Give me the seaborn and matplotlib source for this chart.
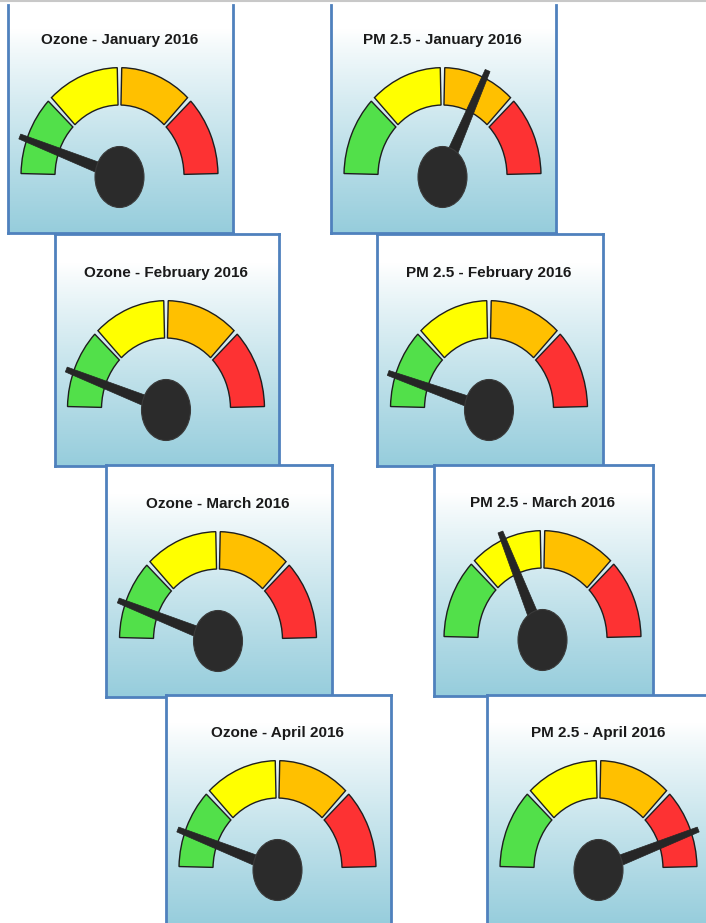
import numpy as np
import matplotlib
matplotlib.use("Agg")
import matplotlib.pyplot as plt
import seaborn as sns
from matplotlib.patches import Wedge, Ellipse, Polygon
from matplotlib.lines import Line2D

# gauge readings, 0 (far left) .. 100 (far right)
pollutants = ["Ozone", "PM 2.5"]
months = ["January", "February", "March", "April"]
year = 2016
ozone_values = [11, 11, 11, 11]
pm25_values = [64, 10, 37, 89]

# colour bands of the dial
band_edges = [0, 25, 50, 75, 100]
band_colors = ["#52E04A", "#FFFF00", "#FFC000", "#FD3233"]

sns.set_theme(style="white")
plt.rcParams["font.family"] = ["Liberation Sans", "DejaVu Sans"]

W, H = 706, 923
fig = plt.figure(figsize=(W / 100, H / 100), dpi=100)

# panel boxes in pixels: left, top, right, bottom
boxes = {
    ("Ozone", 0): (8, 5, 233, 233),
    ("PM 2.5", 0): (331, 5, 556, 233),
    ("Ozone", 1): (55, 234, 279, 466),
    ("PM 2.5", 1): (377, 234, 603, 466),
    ("Ozone", 2): (106, 465, 332, 697),
    ("PM 2.5", 2): (434, 465, 653, 696),
    ("Ozone", 3): (166, 695, 391, 926),
    ("PM 2.5", 3): (487, 695, 712, 926),
}

SY = 1.1          # dial is a bit taller than wide
R_OUT, R_IN = 98.5, 64.5
R_NEEDLE = 106

# background: white at top fading to light blue
top_c = np.array([1.0, 1.0, 1.0])
bot_c = np.array([0x96, 0xCD, 0xDC]) / 255


def draw_gauge(box, title, value, top_edge=True):
    l, tp, r, b = box
    w, h = r - l, b - tp
    ax = fig.add_axes([l / W, 1 - b / H, w / W, h / H])
    yh = h / SY
    # gradient measured from a 230 px tall panel
    t = np.linspace(0, 1, 256) * (h / 230) + (1 - h / 230)
    t = np.clip((t - 0.12) / 0.88, 0, 1) ** 0.9
    grad = (top_c[None, :] * (1 - t[:, None]) + bot_c[None, :] * t[:, None])[:, None, :]
    ax.imshow(grad, extent=[0, w, 0, yh], aspect="auto", zorder=0)
    ax.set_xlim(0, w)
    ax.set_ylim(0, yh)
    ax.set_xticks([])
    ax.set_yticks([])
    for s in ax.spines.values():
        s.set_color("#4F81BD")
        s.set_linewidth(2)
    ax.spines["top"].set_visible(top_edge)

    cx, cy = w / 2 - 1, 57 / SY

    # coloured bands
    for lo, hi, col in zip(band_edges[:-1], band_edges[1:], band_colors):
        th1 = 180 - hi / 100 * 180 + 1.3
        th2 = 180 - lo / 100 * 180 - 1.3
        ax.add_patch(Wedge((cx, cy), R_OUT, th1, th2, width=R_OUT - R_IN,
                           facecolor=col, edgecolor="#1E1E1E", lw=1.0, zorder=2))

    # needle (tapered), built in pixel space then mapped to data
    a = np.deg2rad(180 - value / 100 * 180)
    ux, uy = np.cos(a), np.sin(a)
    tip = np.array([cx + R_NEEDLE * ux, cy * SY + R_NEEDLE * SY * uy])
    base = np.array([cx, cy * SY])
    d = tip - base
    d = d / np.hypot(*d)
    n = np.array([-d[1], d[0]])
    pts = np.array([base + n * 6, tip + n * 2.6, tip - n * 2.6, base - n * 6])
    pts[:, 1] /= SY
    ax.add_patch(Polygon(pts, closed=True, facecolor="#262626",
                         edgecolor="#262626", lw=0.5, zorder=3))

    # hub
    ax.add_patch(Ellipse((cx, cy - 1 / SY), 49, 61 / SY, facecolor="#2B2B2B",
                         edgecolor="#3A3A3A", lw=0.8, zorder=4))

    ax.text(w / 2 - 1, 193 / SY, title, ha="center", va="center",
            fontsize=11, fontweight="bold", color="#1A1A1A", zorder=5)


for i, m in enumerate(months):
    draw_gauge(boxes[("Ozone", i)], f"Ozone - {m} {year}", ozone_values[i], i > 0)
    draw_gauge(boxes[("PM 2.5", i)], f"PM 2.5 - {m} {year}", pm25_values[i], i > 0)

fig.add_artist(Line2D([0, 1], [1 - 1 / H, 1 - 1 / H], color="#C8C8C8", lw=1.5))

fig.savefig("out.png", dpi=100)
